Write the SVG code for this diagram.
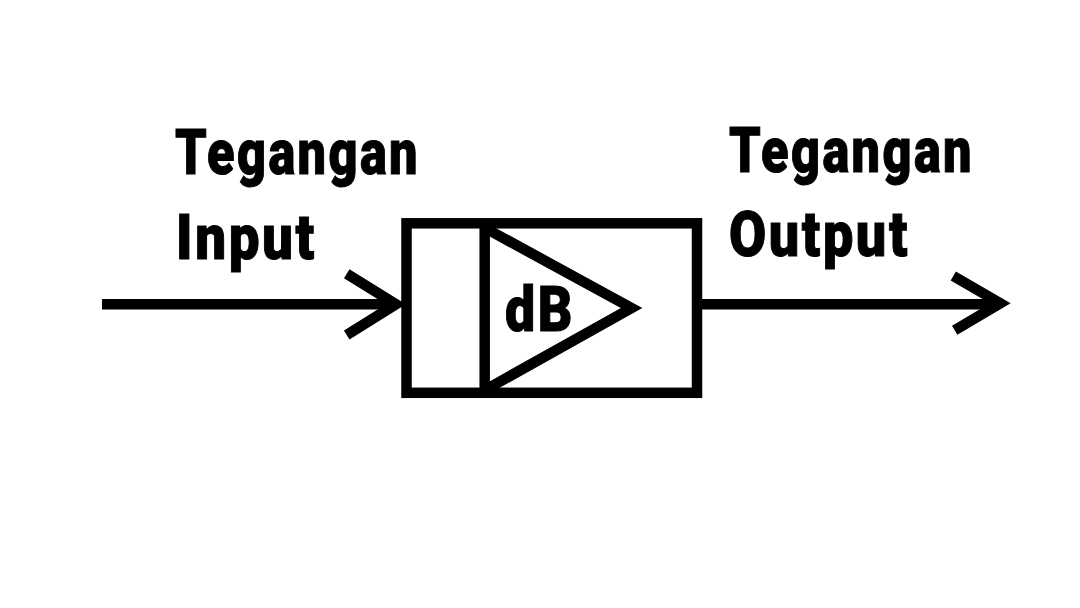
<svg xmlns="http://www.w3.org/2000/svg" width="1080" height="608" viewBox="0 0 1080 608">
<style>
.l{fill:none;stroke:#000;stroke-width:10.5}
.t{font-family:"Roboto","Liberation Sans",sans-serif;font-weight:900;font-size:63px;letter-spacing:3px;fill:#000;stroke:#000;stroke-width:1}
</style>
<rect width="1080" height="608" fill="#fff"/>
<g id="connectors">
<path class="l" d="M102 304.2H396"/>
<path class="l" d="M346.7 273.7L396 304.2L346.7 335"/>
<path class="l" d="M702 304.2H996"/>
<path class="l" d="M953.3 276L1000.3 303.3L954.7 330.3"/>
</g>
<g id="block">
<rect class="l" x="406.5" y="223.3" width="290.5" height="169.5"/>
<path class="l" d="M484.7 223.3V398"/>
<path class="l" d="M485 228L631.5 308L485 390"/>
<text class="t" x="505" y="331" textLength="70" lengthAdjust="spacingAndGlyphs">dB</text>
</g>
<g id="label-input">
<text class="t" x="175" y="173.5" textLength="245" lengthAdjust="spacingAndGlyphs">Tegangan</text>
<text class="t" x="176" y="258.5" textLength="141" lengthAdjust="spacingAndGlyphs">Input</text>
</g>
<g id="label-output">
<text class="t" x="729" y="171.5" textLength="245" lengthAdjust="spacingAndGlyphs">Tegangan</text>
<text class="t" x="729" y="256" textLength="181" lengthAdjust="spacingAndGlyphs">Output</text>
</g>
</svg>
